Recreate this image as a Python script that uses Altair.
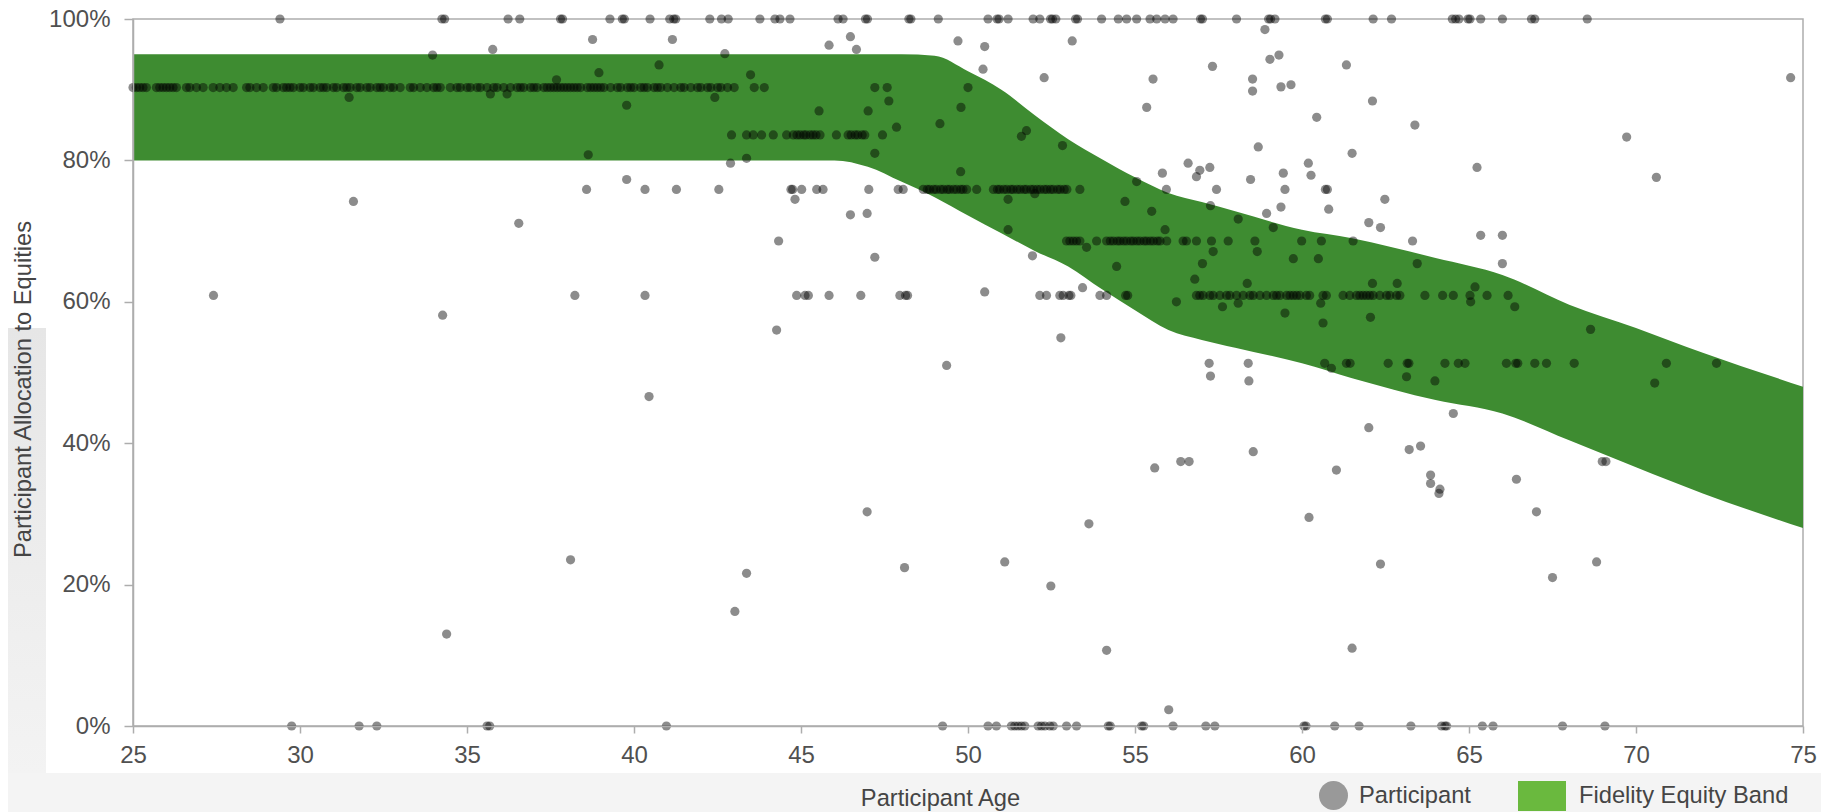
import altair as alt
import pandas as pd

# ---------------- data ----------------
x_ticks = [25, 30, 35, 40, 45, 50, 55, 60, 65, 70, 75]
y_ticks = [0, 20, 40, 60, 80, 100]

band_label = "Fidelity Equity Band"
point_label = "Participant"

band_age = [25, 46, 47, 48, 49, 50, 51, 52, 53, 54, 55, 56, 57, 58, 60, 61.5, 64, 66, 68, 70, 72, 75]
band_upper = [95, 95, 95, 95, 94.8, 92.6, 90.0, 86.4, 83.0, 80.2, 77.6, 75.4, 74.1, 72.8, 70.2, 69.0, 66.2, 63.8, 59.6, 56.3, 52.8, 48.0]
band_lower = [80, 80, 79.1, 77.0, 74.8, 72.2, 69.7, 67.2, 65.0, 61.8, 58.8, 56.0, 54.6, 53.5, 51.3, 49.2, 46.1, 44.2, 40.4, 36.6, 32.9, 28.0]

# participants sitting at 100 %
top_ages = [29.4, 34.25, 34.33, 36.23, 36.58, 37.8, 37.86, 39.28, 39.65, 39.71, 40.48, 41.07, 41.19, 41.25,
            42.27, 42.62, 42.82, 43.77, 44.22, 44.37, 44.67, 46.11, 46.26, 46.93, 46.99, 48.23, 48.29, 49.11,
            50.6, 50.87, 50.93, 51.2, 51.95, 52.15, 52.47, 52.53, 52.63, 53.22, 53.28, 54.0, 54.5, 54.75,
            55.05, 55.45, 55.65, 55.9, 56.14, 56.96, 57.02, 58.04, 59.0, 59.06, 59.19, 60.7, 60.76, 62.13,
            62.68, 64.5, 64.6, 64.7, 64.97, 65.03, 65.35, 66.0, 66.87, 66.97, 68.54]

# participants sitting at 0 %
zero_ages = [29.75, 31.77, 32.3, 35.6, 35.68, 40.97, 49.24, 50.6, 50.85, 51.3, 51.4, 51.5, 51.6, 51.7,
             52.1, 52.2, 52.3, 52.45, 52.55, 52.95, 53.25, 54.2, 54.26, 55.2, 55.26, 56.14, 57.12, 57.39,
             60.06, 60.12, 60.98, 61.71, 63.26, 64.18, 64.28, 64.33, 65.4, 65.72, 67.8, 69.07]

# dense row near 90 %
row90_ages = [25.0, 25.1, 25.2, 25.3, 25.4, 25.7, 25.8, 25.9, 26.0, 26.1, 26.2, 26.3, 26.6, 26.7, 26.9,
              27.1, 27.4, 27.6, 27.8, 28.0, 28.4, 28.5, 28.7, 28.9, 29.2, 29.3, 29.5, 29.6, 29.7, 29.8,
              30.0, 30.1, 30.3, 30.4, 30.6, 30.7, 30.8, 31.0, 31.1, 31.3, 31.4, 31.5, 31.7, 31.8, 32.0,
              32.1, 32.3, 32.4, 32.5, 32.7, 32.8, 33.0, 33.3, 33.4, 33.6, 33.8, 34.0, 34.1, 34.2, 34.5,
              34.7, 34.8, 35.0, 35.1, 35.3, 35.4, 35.6, 35.8, 35.9, 36.1, 36.3, 36.5, 36.6, 36.7, 36.9,
              37.0, 37.1, 37.3, 37.4, 37.5, 37.6, 37.7, 37.8, 37.9, 38.0, 38.1, 38.2, 38.3, 38.4, 38.6,
              38.7, 38.8, 38.9, 39.0, 39.1, 39.3, 39.5, 39.6, 39.8, 39.9, 40.0, 40.2, 40.3, 40.4, 40.6,
              40.7, 40.8, 41.0, 41.2, 41.4, 41.5, 41.7, 41.9, 42.0, 42.2, 42.3, 42.5, 42.6, 42.8, 43.0,
              43.6, 43.9]

row83_ages = [42.92, 43.37, 43.57, 43.82, 44.17, 44.57, 44.77, 44.88, 44.97, 45.08, 45.15, 45.27, 45.36,
              45.45, 45.57, 46.06, 46.41, 46.5, 46.62, 46.7, 46.83, 46.91, 47.44]

row76_ages = [38.58, 40.33, 41.27, 42.54, 44.7, 44.75, 45.02, 45.47, 45.66, 47.03, 47.91, 48.06, 48.66,
              48.78, 48.85, 48.97, 49.05, 49.18, 49.26, 49.38, 49.45, 49.57, 49.66, 49.78, 49.85, 49.96,
              50.26, 50.76, 50.88, 50.95, 51.07, 51.16, 51.28, 51.35, 51.47, 51.56, 51.68, 51.75, 51.88,
              51.96, 52.07, 52.16, 52.28, 52.36, 52.47, 52.55, 52.68, 52.76, 52.88, 52.96, 53.35, 55.94,
              57.44, 59.49, 60.7, 60.76]

row68_ages = [52.95, 53.05, 53.15, 53.25, 53.35, 53.85, 54.15, 54.26, 54.35, 54.47, 54.55, 54.66, 54.75,
              54.87, 54.95, 55.06, 55.15, 55.27, 55.35, 55.46, 55.55, 55.67, 55.75, 55.95, 56.44, 56.54,
              56.84, 57.29, 57.79, 58.59, 59.99, 60.58, 61.53, 63.31]

row61_ages = [38.23, 40.33, 44.87, 45.12, 45.22, 45.84, 46.79, 47.96, 48.13, 48.19, 52.15, 52.35, 52.75,
              52.85, 53.02, 53.08, 53.95, 54.15, 54.72, 54.78, 56.84, 56.94, 57.04, 57.24, 57.34, 57.54,
              57.74, 57.84, 58.04, 58.24, 58.44, 58.54, 58.74, 58.94, 59.14, 59.24, 59.34, 59.54, 59.64,
              59.74, 59.84, 59.94, 60.13, 60.23, 60.63, 60.73, 61.23, 61.43, 61.63, 61.73, 61.83, 61.93,
              62.03, 62.13, 62.33, 62.53, 62.63, 62.83, 62.93, 63.68, 64.21, 64.53, 65.03, 65.54, 66.17]

row51_ages = [57.22, 58.39, 60.68, 61.33, 61.44, 62.58, 63.15, 63.2, 64.28, 64.68, 64.88, 66.12, 66.4,
              66.46, 66.97, 67.32, 68.15, 70.91, 72.41]

row_levels = {"top": 100.0, "zero": 0.0, "r90": 90.3, "r83": 83.6, "r76": 75.9,
              "r68": 68.6, "r61": 60.9, "r51": 51.3}

scatter_age = [31.47, 31.6, 27.41,
               38.76, 41.15, 35.77, 33.97, 45.84, 46.48, 46.66, 42.72, 40.75, 38.95, 43.49, 35.7, 36.2,
               37.68, 42.42, 39.78, 47.21, 47.58, 47.63, 45.54, 47.01, 47.86, 38.63, 43.37, 42.89, 47.21,
               39.78, 44.82, 46.48, 46.98, 36.55, 44.33, 47.21, 34.27, 44.27, 40.45,
               46.98, 38.1, 43.37, 43.02, 34.39, 48.1,
               58.89, 49.7, 53.12, 50.5, 59.04, 59.31, 57.32, 50.45, 52.28, 58.52, 58.52, 59.37, 59.67,
               61.33, 55.54, 55.35, 62.11, 50.0, 49.79, 49.16, 60.44, 51.6, 51.75, 52.83, 58.69, 61.5,
               49.78, 56.59, 56.94, 56.84, 57.24, 60.19, 60.27, 55.82, 59.44, 55.05, 52.0, 58.46, 62.48,
               51.2, 59.37, 60.8, 58.94, 57.26, 54.7, 55.5, 62.0, 62.35, 58.09, 59.14, 55.9, 51.2, 53.55,
               57.34, 58.66, 59.74, 60.49, 51.93, 54.45, 57.02, 56.79, 58.36, 62.11, 62.85, 53.43, 50.5,
               56.24, 57.62, 58.09, 60.56, 59.49, 62.05, 60.63, 52.78, 49.36, 57.26, 58.41, 60.88,
               74.63, 63.38, 69.72, 65.24, 70.61, 65.35, 66.0, 66.0, 63.45, 65.18, 65.05, 66.37, 68.64,
               63.13, 63.98, 70.56,
               62.0, 55.59, 56.37, 56.62, 58.54, 61.03, 60.21, 53.62, 62.35, 51.1, 52.48, 54.15, 61.5,
               56.01,
               64.53, 63.21, 63.55, 63.85, 63.85, 64.13, 64.1, 66.42, 67.02, 68.99, 69.1, 68.82, 67.5]
scatter_val = [88.9, 74.2, 60.9,
               97.1, 97.1, 95.7, 94.9, 96.3, 97.5, 95.7, 95.1, 93.5, 92.4, 92.1, 89.4, 89.4,
               91.4, 88.9, 87.8, 90.3, 90.3, 88.4, 87.0, 87.0, 84.7, 80.8, 80.3, 79.6, 81.0,
               77.3, 74.5, 72.3, 72.5, 71.1, 68.6, 66.3, 58.1, 56.0, 46.6,
               30.3, 23.5, 21.6, 16.2, 13.0, 22.4,
               98.5, 96.9, 96.9, 96.1, 94.3, 94.9, 93.3, 92.9, 91.7, 91.5, 89.8, 90.4, 90.7,
               93.5, 91.5, 87.5, 88.4, 90.3, 87.5, 85.2, 86.1, 83.4, 84.2, 82.1, 81.9, 81.0,
               78.4, 79.6, 78.6, 77.7, 79.0, 79.6, 77.9, 78.2, 78.2, 77.0, 75.3, 77.3, 74.5,
               74.5, 73.4, 73.1, 72.5, 73.6, 74.2, 72.8, 71.2, 70.5, 71.7, 70.5, 70.2, 70.2, 67.7,
               67.1, 67.1, 66.1, 66.1, 66.5, 65.0, 65.4, 63.2, 62.6, 62.6, 62.6, 62.0, 61.4,
               60.0, 59.3, 59.8, 59.8, 58.4, 57.8, 57.0, 54.9, 51.0, 49.5, 48.8, 50.6,
               91.7, 85.0, 83.3, 79.0, 77.6, 69.4, 69.4, 65.4, 65.4, 62.1, 60.0, 59.3, 56.1,
               49.4, 48.8, 48.5,
               42.2, 36.5, 37.4, 37.4, 38.8, 36.2, 29.5, 28.6, 22.9, 23.2, 19.8, 10.7, 11.0,
               2.3,
               44.2, 39.1, 39.6, 35.5, 34.3, 33.5, 32.9, 34.9, 30.3, 37.4, 37.4, 23.2, 21.0]

# ---------------- tables ----------------
rows = [("top", top_ages), ("zero", zero_ages), ("r90", row90_ages), ("r83", row83_ages),
        ("r76", row76_ages), ("r68", row68_ages), ("r61", row61_ages), ("r51", row51_ages)]
pt_age, pt_val = [], []
for key, ages in rows:
    pt_age += ages
    pt_val += [row_levels[key]] * len(ages)
pt_age += scatter_age
pt_val += scatter_val
points_df = pd.DataFrame({"age": pt_age, "val": pt_val})

band_df = pd.DataFrame({"age": band_age, "upper": band_upper, "lower": band_lower})
one_row = pd.DataFrame({"d": [0]})
# legend-only rows (no position -> filtered out, only the legend remains)
leg_p_df = pd.DataFrame({"leg_p": [point_label], "age": [None], "val": [None]})
leg_b_df = pd.DataFrame({"leg_b": [band_label], "age": [None], "val": [None]})

FONT = "Arial, Liberation Sans, sans-serif"
TXT = "#454545"
LINE = "#adadad"
FS = 23.7

x_axis = alt.Axis(values=x_ticks, title="Participant Age", grid=False, labelFontSize=24, labelColor="#505050",
                  labelFont=FONT, labelPadding=10, tickSize=7, tickColor=LINE, domainColor=LINE,
                  domainWidth=1.5, tickWidth=1.5, titleFont=FONT, titleFontSize=FS, titleFontWeight="normal",
                  titleColor=TXT, titleX=807, titleY=79, titleAlign="center", titleBaseline="alphabetic",
                  labelFlush=False, zindex=1)
y_axis = alt.Axis(values=y_ticks, title="Participant Allocation to Equities", grid=False,
                  labelExpr="datum.value + '%'", labelFontSize=24, labelColor="#505050", labelFont=FONT,
                  labelPadding=14, tickSize=9, tickColor=LINE, domainColor=LINE, domainWidth=1.5,
                  tickWidth=1.5, titleFont=FONT, titleFontSize=FS, titleFontWeight="normal", titleColor=TXT,
                  titleX=-110, titleY=370, titleAngle=270, titleAlign="center", titleBaseline="middle",
                  zindex=1)

x_enc = alt.X("age:Q", scale=alt.Scale(domain=[25, 75], nice=False, zero=False), axis=x_axis)
y_scale = alt.Scale(domain=[0, 100], nice=False)

# decorative page panels (light grey strips)
bottom_strip = alt.Chart(one_row).mark_rect(color="#f4f4f4").encode(
    x=alt.value(-125), x2=alt.value(1688), y=alt.value(754), y2=alt.value(800))
left_strip = alt.Chart(one_row).mark_rect(
    color=alt.Gradient(gradient="linear", stops=[alt.GradientStop(color="#e6e6e6", offset=0),
                                                 alt.GradientStop(color="#f3f3f3", offset=1)],
                       x1=0, x2=0, y1=0, y2=1)).encode(
    x=alt.value(-125), x2=alt.value(-87), y=alt.value(309), y2=alt.value(754))

band = alt.Chart(band_df).mark_area(interpolate="monotone", opacity=1, color="#3e8c31").encode(
    x=x_enc,
    y=alt.Y("upper:Q", scale=y_scale, axis=y_axis),
    y2="lower:Q",
)

pts = alt.Chart(points_df).mark_point(filled=True, color="black", opacity=0.45, size=85, strokeWidth=0).encode(
    x=x_enc,
    y=alt.Y("val:Q", scale=y_scale, axis=y_axis),
)

leg_p = alt.Chart(leg_p_df).mark_point(filled=True, color="#999999", opacity=1, strokeWidth=0).encode(
    x=x_enc,
    y=alt.Y("val:Q", scale=y_scale, axis=y_axis),
    shape=alt.Shape("leg_p:N", scale=alt.Scale(domain=[point_label], range=["circle"]),
                    legend=alt.Legend(orient="none", legendX=1186, legendY=762, title=None,
                                      symbolSize=841, labelOffset=11, labelFontSize=FS, labelFont=FONT,
                                      labelColor=TXT, labelLimit=400, padding=0, symbolStrokeWidth=0,
                                      symbolOpacity=1, symbolFillColor="#999999")),
)

leg_b = alt.Chart(leg_b_df).mark_point(filled=True, opacity=1, strokeWidth=0).encode(
    x=x_enc,
    y=alt.Y("val:Q", scale=y_scale, axis=y_axis),
    color=alt.Color("leg_b:N", scale=alt.Scale(domain=[band_label], range=["#6ab93e"]),
                    legend=alt.Legend(orient="none", legendX=1385, legendY=753, title=None,
                                      symbolType="M-1,-0.62H1V0.62H-1Z", symbolSize=2304,
                                      labelOffset=13, labelFontSize=FS, labelFont=FONT, labelColor=TXT,
                                      labelLimit=400, padding=0, symbolStrokeWidth=0, symbolOpacity=1)),
)

chart = alt.layer(bottom_strip, left_strip, band, pts, leg_p, leg_b).properties(
    width=1670, height=707,
    autosize=alt.AutoSizeParams(type="none"),
    padding={"left": 125, "top": 11, "right": 18, "bottom": 86},
).configure(background="white", font=FONT).configure_view(stroke=LINE, strokeWidth=1.5)

chart.save("out.html", embed_options={"renderer": "svg", "actions": False})
